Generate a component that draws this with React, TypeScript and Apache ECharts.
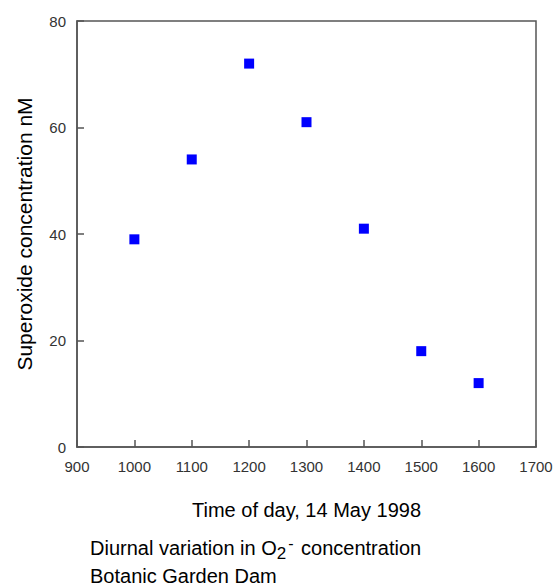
import React, { useEffect, useRef } from "react";
import * as echarts from "echarts";

const times = [1000, 1100, 1200, 1300, 1400, 1500, 1600];
const superoxide = [39, 54, 72, 61, 41, 18, 12];
const xTicks = { min: 900, max: 1700, interval: 100 };
const yTicks = { min: 0, max: 80, interval: 20 };

export default function App() {
  const ref = useRef<HTMLDivElement>(null);
  useEffect(() => {
    if (!ref.current) return;
    const chart = echarts.init(ref.current, undefined, { renderer: "svg" });
    const font = "Liberation Sans, Arial, sans-serif";
    chart.setOption({
      animation: false,
      backgroundColor: "#ffffff",
      grid: {
        left: 77,
        top: 21,
        right: 18,
        bottom: 139,
        containLabel: false,
        outerBoundsMode: "none",
        show: true,
        borderColor: "#555555",
        borderWidth: 1.5,
        backgroundColor: "transparent",
      },
      xAxis: {
        type: "value",
        min: xTicks.min,
        max: xTicks.max,
        interval: xTicks.interval,
        name: "Time of day, 14 May 1998",
        nameLocation: "middle",
        nameGap: 53,
        nameTextStyle: { fontFamily: font, fontSize: 20, color: "#000" },
        axisLine: { show: true, lineStyle: { color: "#555555", width: 1.5 } },
        axisTick: { show: true, inside: true, length: 7, lineStyle: { color: "#555555", width: 1.5 } },
        axisLabel: { fontFamily: font, fontSize: 15, color: "#333333", margin: 12, formatter: (v: number) => String(v) },
        splitLine: { show: false },
      },
      yAxis: {
        type: "value",
        min: yTicks.min,
        max: yTicks.max,
        interval: yTicks.interval,
        name: "Superoxide concentration nM",
        nameLocation: "middle",
        nameGap: 42,
        nameTextStyle: { fontFamily: font, fontSize: 21, color: "#000" },
        axisLine: { show: true, lineStyle: { color: "#555555", width: 1.5 } },
        axisTick: { show: true, inside: true, length: 7, lineStyle: { color: "#555555", width: 1.5 } },
        axisLabel: { fontFamily: font, fontSize: 15, color: "#333333", margin: 11 },
        splitLine: { show: false },
      },
      series: [
        {
          type: "scatter",
          data: times.map((t, i) => [t, superoxide[i]]),
          symbol: "rect",
          symbolSize: 10,
          itemStyle: { color: "#0000ff", opacity: 1 },
        },
      ],
      graphic: [
        {
          type: "text",
          left: 90,
          top: 535,
          style: {
            text: "{n|Diurnal variation in O}{sub|2}{sup|-}{n| concentration}",
            rich: {
              n: { fontFamily: font, fontSize: 20, fill: "#000" },
              sub: { fontFamily: font, fontSize: 17, fill: "#000", padding: [10, 0, 0, 0] },
              sup: { fontFamily: font, fontSize: 16, fill: "#000", padding: [0, 2, 10, 2] },
            },
          },
        },
        {
          type: "text",
          left: 90,
          top: 566,
          style: { text: "Botanic Garden Dam", fontFamily: font, fontSize: 20, fill: "#000" },
        },
      ],
    });
    return () => chart.dispose();
  }, []);
  return <div ref={ref} style={{ width: 554, height: 586, position: "absolute", left: 0, top: 0 }} />;
}
